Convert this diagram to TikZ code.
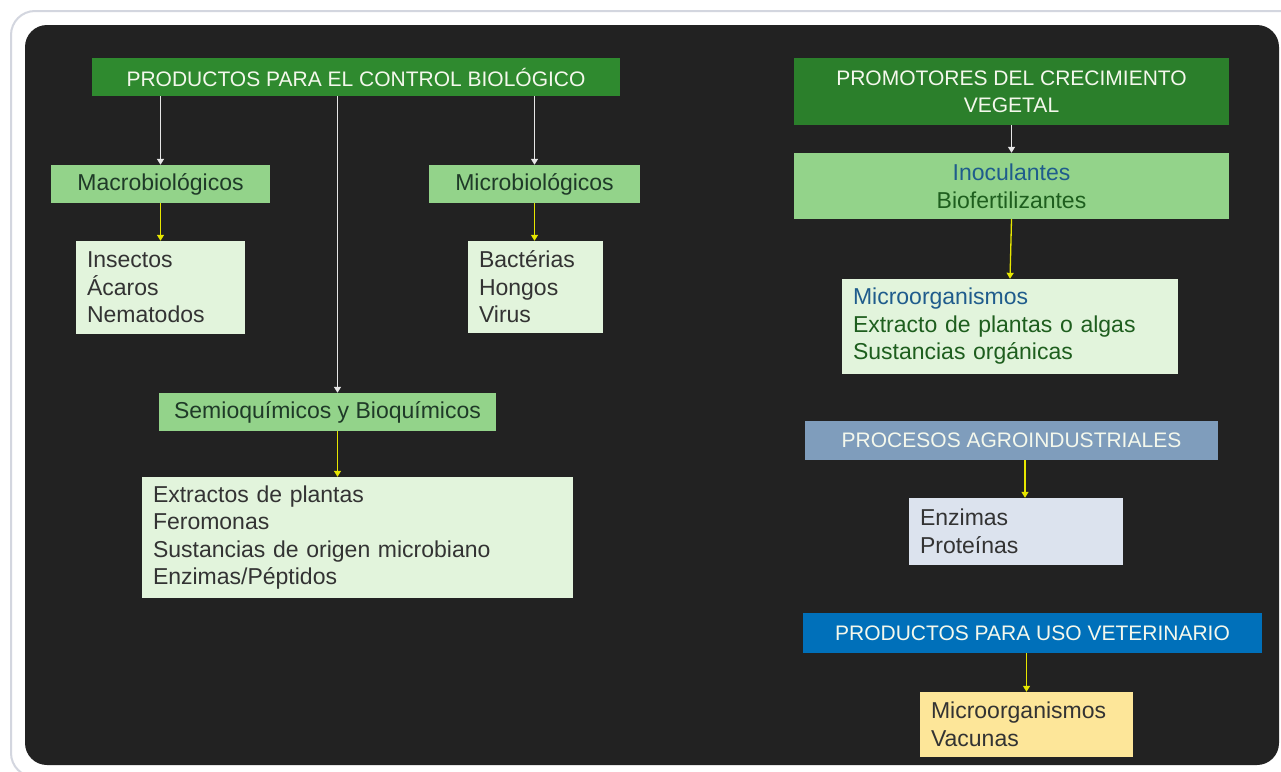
\documentclass[tikz,border=0pt]{standalone}
\usepackage{fontspec}
\setmainfont{Liberation Sans}
\usetikzlibrary{arrows.meta}

\definecolor{panel}{HTML}{222222}
\definecolor{framegray}{HTML}{D3D6DF}
\definecolor{darkgreen}{HTML}{2F8A2F}
\definecolor{midgreen}{HTML}{93D38A}
\definecolor{palegreen}{HTML}{E2F4DC}
\definecolor{steelbox}{HTML}{7F9DBC}
\definecolor{palesteel}{HTML}{DCE3EE}
\definecolor{vetblue}{HTML}{0070BA}
\definecolor{paleyellow}{HTML}{FDE699}
\definecolor{titletext}{HTML}{F4F8EC}
\definecolor{labeltext}{HTML}{1F3A28}
\definecolor{bodytext}{HTML}{333333}
\definecolor{inkblue}{HTML}{1F5C8C}
\definecolor{inkgreen}{HTML}{1E5E1E}
\definecolor{wirewhite}{HTML}{E6E6E6}
\definecolor{wireyellow}{HTML}{E6E600}

\tikzset{
  headbox/.style={fill=#1,text=titletext,align=center,inner sep=0pt,
    font=\fontsize{21}{27}\selectfont},
  labelbox/.style={fill=midgreen,text=labeltext,align=center,inner sep=0pt,
    font=\fontsize{23}{28}\selectfont},
  listbox/.style={fill=#1,text=bodytext,align=left,inner xsep=11pt,inner ysep=0pt,
    font=\fontsize{23}{27.5}\selectfont},
  wire/.style={draw=#1,line width=1.3pt,-{Triangle[width=7pt,length=6pt]}}
}

\begin{document}
\begin{tikzpicture}[x=1pt,y=-1pt]

  \useasboundingbox (0,0) rectangle (1281,771);
  \clip (0,0) rectangle (1281,771);
  \fill[white] (0,0) rectangle (1281,771);
  \draw[framegray,line width=2pt,rounded corners=24pt] (11,11) rectangle (1310,777);
  \fill[panel,rounded corners=22pt] (25,25) rectangle (1279,765);

  % control biologico
  \node (control) at (356,77) [headbox=darkgreen,minimum width=528pt,minimum height=38pt]
    {PRODUCTOS PARA EL CONTROL BIOLÓGICO};

  \node (macro) at (160.5,184) [labelbox,minimum width=219pt,minimum height=38pt] {Macrobiológicos};
  \node (micro) at (534.5,184) [labelbox,minimum width=211pt,minimum height=38pt] {Microbiológicos};
  \node (semio) at (327.5,412) [labelbox,minimum width=337pt,minimum height=38pt] {Semioquímicos y Bioquímicos};

  \node (insectos) at (160.5,287.5) [listbox=palegreen,text width=147pt,minimum height=93pt]
    {Insectos\\Ácaros\\Nematodos};
  \node (bacterias) at (535.5,287) [listbox=palegreen,text width=113pt,minimum height=92pt]
    {Bactérias\\Hongos\\Virus};
  \node (extractos) at (357.5,537.5) [listbox=palegreen,text width=409pt,minimum height=121pt]
    {Extractos de plantas\\Feromonas\\Sustancias de origen microbiano\\Enzimas/Péptidos};

  \draw[wire=wirewhite] (control.south -| macro.north) -- (macro.north);
  \draw[wire=wirewhite] (control.south -| micro.north) -- (micro.north);
  \draw[wire=wirewhite] ([xshift=10pt]semio.north |- control.south) -- ([xshift=10pt]semio.north);

  \draw[wire=wireyellow] (macro.south) -- (insectos.north -| macro.south);
  \draw[wire=wireyellow] (micro.south) -- (bacterias.north -| micro.south);
  \draw[wire=wireyellow] ([xshift=10pt]semio.south) -- ([xshift=10pt]semio.south |- extractos.north);

  % crecimiento vegetal
  \node (promotores) at (1011.5,91.5) [headbox=darkgreen!92!black,minimum width=435pt,minimum height=67pt]
    {PROMOTORES DEL CRECIMIENTO\\VEGETAL};
  \node (inoculantes) at (1011.5,186) [labelbox,minimum width=435pt,minimum height=66pt]
    {\textcolor{inkblue}{Inoculantes}\\\textcolor{inkgreen}{Biofertilizantes}};
  \node (microorg) at (1010,326.5) [listbox=palegreen,text width=314pt,minimum height=95pt]
    {\textcolor{inkblue}{Microorganismos}\\\textcolor{inkgreen}{Extracto de plantas o algas}\\\textcolor{inkgreen}{Sustancias orgánicas}};

  \draw[wire=wirewhite] (promotores.south) -- (inoculantes.north);
  \draw[wire=wireyellow] (inoculantes.south) -- (microorg.north);

  % agroindustria
  \node (procesos) at (1011.5,440.5) [headbox=steelbox,minimum width=413pt,minimum height=39pt]
    {PROCESOS AGROINDUSTRIALES};
  \node (enzimas) at (1016,531.5) [listbox=palesteel,text width=192pt,minimum height=67pt]
    {Enzimas\\Proteínas};

  \draw[wire=wireyellow] ([xshift=9pt]enzimas.north |- procesos.south) -- ([xshift=9pt]enzimas.north);

  % veterinario
  \node (veterinario) at (1032.5,633) [headbox=vetblue,minimum width=459pt,minimum height=40pt]
    {PRODUCTOS PARA USO VETERINARIO};
  \node (vacunas) at (1026.5,724.5) [listbox=paleyellow,text width=191pt,minimum height=65pt]
    {Microorganismos\\Vacunas};

  \draw[wire=wireyellow] (veterinario.south -| vacunas.north) -- (vacunas.north);

\end{tikzpicture}
\end{document}
